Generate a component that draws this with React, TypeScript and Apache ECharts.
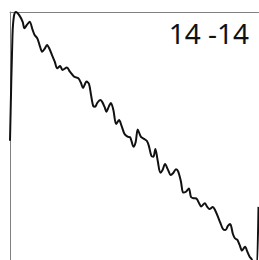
import React, { useEffect, useRef } from "react";
import * as echarts from "echarts";

const titleText = "14 -14";
const xValues = [
  0, 1.0, 1.6, 2.4, 3.7, 5.1, 5.8, 6.8, 7.9, 9.1, 9.9, 11.0, 12.1, 12.9, 13.9, 14.9, 15.9, 16.9, 18.0, 19.0,
  20.2, 21.1, 22.9, 24.1, 25.2, 26.0, 27.5, 28.5, 29.4, 30.8, 31.8, 32.6, 33.5, 34.3, 35.1, 36.3, 37.1, 38.1, 38.8, 39.8,
  40.6, 41.6, 42.7, 43.9, 44.9, 46.1, 47.3, 48.4, 49.7, 50.6, 51.4, 52.7, 54.1, 55.1, 55.9, 56.9, 57.7, 58.5, 59.4, 60.5,
  61.4, 62.4, 63.5, 64.7, 65.6, 66.8, 67.7, 68.8, 69.7, 70.8, 72.0, 72.8, 73.8, 75.0, 76.1, 76.9, 78.4, 79.3, 80.3, 81.6,
  82.5, 83.7, 84.6, 85.7, 86.7, 87.7, 88.6, 89.7, 90.5, 91.5, 92.4, 93.4, 94.6, 95.5, 96.5, 97.3, 98.9, 100,
];
const yValues = [
  54.0, 91.8, 98.6, 100, 98.9, 96.5, 94.2, 95.4, 96.5, 93.6, 91.8, 90.6, 87.6, 85.8, 86.8, 88.2, 86.8, 84.6, 82.3, 79.9,
  80.7, 79.3, 80.2, 78.7, 77.5, 76.8, 76.3, 74.8, 72.9, 75.2, 74.3, 70.4, 66.4, 66.2, 67.5, 68.6, 67.9, 66.0, 64.4, 66.3,
  67.5, 65.0, 60.0, 61.4, 59.3, 56.4, 55.5, 55.2, 51.9, 53.7, 58.0, 55.4, 54.6, 53.9, 52.1, 48.6, 48.3, 51.1, 47.1, 42.6,
  43.6, 45.7, 43.8, 41.8, 42.4, 43.8, 43.0, 39.4, 35.5, 35.8, 37.0, 34.0, 33.5, 33.4, 31.7, 30.5, 31.7, 30.5, 29.6, 30.4,
  29.3, 26.8, 24.8, 22.5, 22.1, 23.6, 24.3, 20.7, 19.2, 18.6, 16.8, 14.8, 16.2, 14.4, 12.5, 11.6, 6.0, 30.4,
];

export default function App() {
  const ref = useRef<HTMLDivElement>(null);
  useEffect(() => {
    if (!ref.current) return;
    const chart = echarts.init(ref.current, null, { renderer: "svg" });
    const data = xValues.map((x, i) => [x, yValues[i]]);
    chart.setOption({
      animation: false,
      backgroundColor: "#ffffff",
      grid: { left: 2, top: 4, width: 248.5, height: 280, containLabel: false },
      xAxis: {
        type: "value",
        min: 0,
        max: 100,
        position: "top",
        axisLine: { show: true, onZero: false, lineStyle: { color: "#808080", width: 1 } },
        axisTick: { show: false },
        axisLabel: { show: false },
        splitLine: { show: false },
      },
      yAxis: {
        type: "value",
        min: 0,
        max: 100,
        axisLine: { show: true, onZero: false, lineStyle: { color: "#808080", width: 1 } },
        axisTick: { show: false },
        axisLabel: { show: false },
        splitLine: { show: false },
      },
      graphic: [
        {
          type: "text",
          right: 10,
          top: 11,
          style: {
            text: titleText,
            font: "28px 'Noto Sans'",
            fill: "#111111",
          },
        },
      ],
      series: [
        {
          type: "line",
          data,
          showSymbol: false,
          smooth: 0.3,
          clip: false,
          lineStyle: { color: "#111111", width: 2 },
        },
      ],
    });
    return () => chart.dispose();
  }, []);
  return (
    <div
      style={{
        position: "fixed",
        left: 8,
        top: 8,
        width: 251,
        height: 252,
        overflow: "hidden",
        background: "#ffffff",
      }}
    >
      <div ref={ref} style={{ width: 251, height: 300 }} />
    </div>
  );
}
